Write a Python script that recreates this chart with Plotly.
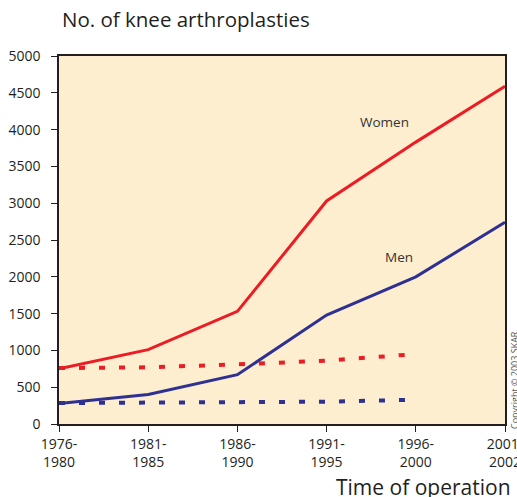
import plotly.graph_objects as go

periods = ["1976-<br>1980", "1981-<br>1985", "1986-<br>1990", "1991-<br>1995", "1996-<br>2000", "2001-<br>2002"]
x_idx = [0, 1, 2, 3, 4, 5]
women = [750, 1010, 1530, 3030, 3830, 4590]
men = [280, 400, 670, 1480, 2000, 2740]
women_dotted = [760, 770, 810, 860, 950]
men_dotted = [285, 288, 290, 303, 330]
y_ticks = [0, 500, 1000, 1500, 2000, 2500, 3000, 3500, 4000, 4500, 5000]

RED = "#EC1C24"
BLUE = "#2E3192"
FONT = "Open Sans, Noto Sans, sans-serif"

fig = go.Figure()
fig.add_trace(go.Scatter(x=x_idx[:5], y=women_dotted, mode="lines",
                         line=dict(color=RED, width=4, dash="6px,14px"), showlegend=False, hoverinfo="skip"))
fig.add_trace(go.Scatter(x=x_idx[:5], y=men_dotted, mode="lines",
                         line=dict(color=BLUE, width=4, dash="6px,14px"), showlegend=False, hoverinfo="skip"))
fig.add_trace(go.Scatter(x=x_idx, y=women, mode="lines", name="Women",
                         line=dict(color=RED, width=3), showlegend=False))
fig.add_trace(go.Scatter(x=x_idx, y=men, mode="lines", name="Men",
                         line=dict(color=BLUE, width=3), showlegend=False))

fig.add_annotation(x=3.65, y=4110, text="Women", showarrow=False,
                   font=dict(family=FONT, size=13.5, color="#333333"))
fig.add_annotation(x=3.81, y=2275, text="Men", showarrow=False,
                   font=dict(family=FONT, size=13.5, color="#333333"))
fig.add_annotation(xref="paper", yref="paper", x=0.003, y=1.1, xanchor="left", yanchor="middle",
                   text="No. of knee arthroplasties", showarrow=False,
                   font=dict(family=FONT, size=20.5, color="#231F20"))
fig.add_annotation(xref="paper", yref="paper", x=1.017, y=-0.172, xanchor="right", yanchor="middle",
                   text="Time of operation", showarrow=False,
                   font=dict(family=FONT, size=21, color="#231F20"))
fig.add_annotation(xref="paper", yref="paper", x=1.002, y=-0.018, xanchor="left", yanchor="bottom",
                   text="Copyright © 2003 SKAR", textangle=-90, showarrow=False,
                   font=dict(family=FONT, size=9, color="#555555"))

fig.update_xaxes(range=[0, 5], tickmode="array", tickvals=x_idx, ticktext=periods,
                 showline=True, linecolor="#231F20", linewidth=1.5, mirror=True,
                 ticks="outside", ticklen=6, tickcolor="#231F20", showgrid=False, zeroline=False,
                 ticklabeloverflow="allow",
                 tickfont=dict(family=FONT, size=14, color="#231F20"))
fig.update_yaxes(range=[0, 5000], tickmode="array", tickvals=y_ticks,
                 showline=True, linecolor="#231F20", linewidth=1.5, mirror=True,
                 ticks="outside", ticklen=6, tickcolor="#231F20", showgrid=False, zeroline=False,
                 ticklabeloverflow="allow", ticklabelstandoff=8,
                 tickfont=dict(family=FONT, size=14, color="#231F20"))

fig.update_layout(width=517, height=497, margin=dict(l=59, r=12, t=56, b=73, autoexpand=False),
                  plot_bgcolor="#FDEED0", paper_bgcolor="white", showlegend=False)

fig.write_html("out.html", config={"displayModeBar": False},
               post_script="document.body.style.margin='0';document.body.style.overflow='hidden';")
